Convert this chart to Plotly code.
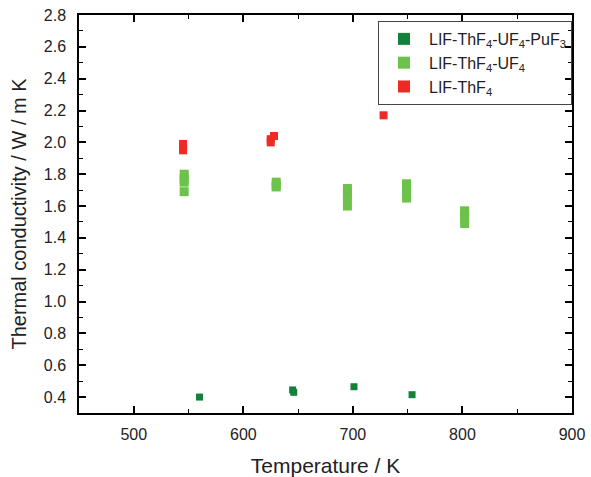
import plotly.graph_objects as go

# Thermal conductivity of fluoride salt mixtures vs temperature
t_pu = [560, 645, 646, 701, 754]
k_pu = [0.40, 0.445, 0.43, 0.465, 0.415]

t_u = [546, 546, 546, 546, 630, 630, 630, 695, 695, 695, 695, 749, 749, 749, 749, 802, 802, 802, 802]
k_u = [1.80, 1.77, 1.75, 1.69, 1.75, 1.73, 1.72, 1.71, 1.68, 1.65, 1.60, 1.74, 1.71, 1.68, 1.65, 1.57, 1.55, 1.52, 1.49]

t_th = [545, 545, 545, 625, 625, 628, 728]
k_th = [1.99, 1.97, 1.95, 2.02, 2.00, 2.04, 2.17]

names = ["LIF-ThF<sub>4</sub>-UF<sub>4</sub>-PuF<sub>3</sub>",
         "LIF-ThF<sub>4</sub>-UF<sub>4</sub>",
         "LIF-ThF<sub>4</sub>"]

FONT = "Liberation Sans, Arial, sans-serif"

fig = go.Figure()
fig.add_trace(go.Scatter(x=t_pu, y=k_pu, mode="markers", name=names[0],
                         marker=dict(symbol="square", size=7, color="#13803c")))
fig.add_trace(go.Scatter(x=t_u, y=k_u, mode="markers", name=names[1],
                         marker=dict(symbol="square", size=9, color="#6cc24a")))
fig.add_trace(go.Scatter(x=t_th, y=k_th, mode="markers", name=names[2],
                         marker=dict(symbol="square", size=8, color="#ee2a24")))

axis_common = dict(
    showline=True, linecolor="black", linewidth=1.5, mirror="ticks",
    ticks="inside", ticklen=7, tickwidth=1.5, tickcolor="black",
    showgrid=False, zeroline=False, automargin=False,
    tickfont=dict(family=FONT, size=16, color="#222"),
)

fig.update_xaxes(range=[450, 900], tickvals=[500, 600, 700, 800, 900],
                 minor=dict(ticks="inside", ticklen=4, tickwidth=1.2, tickcolor="black", dtick=50, tick0=450),
                 ticklabelstandoff=6,
                 title=dict(text="Temperature / K", font=dict(family=FONT, size=21, color="#222"), standoff=16),
                 **axis_common)
fig.update_yaxes(range=[0.3, 2.8], tickvals=[0.4, 0.6, 0.8, 1.0, 1.2, 1.4, 1.6, 1.8, 2.0, 2.2, 2.4, 2.6, 2.8],
                 tickformat=".1f",
                 minor=dict(ticks="inside", ticklen=4, tickwidth=1.2, tickcolor="black", dtick=0.1, tick0=0.3),
                 ticklabelstandoff=8,
                 title=dict(text="Thermal conductivity / W / m K", font=dict(family=FONT, size=20, color="#222"), standoff=12),
                 **axis_common)

fig.update_layout(
    width=591, height=477,
    margin=dict(l=79, r=19, t=15, b=64),
    paper_bgcolor="white", plot_bgcolor="white",
    font=dict(family=FONT, size=16, color="#222"),
    legend=dict(x=1.0, y=0.985, xanchor="right", yanchor="top",
                bgcolor="rgba(255,255,255,0)", bordercolor="#444", borderwidth=1,
                font=dict(family=FONT, size=16, color="#222"),
                itemsizing="constant", tracegroupgap=0, itemwidth=40),
    showlegend=True,
)

fig.write_html("out.html")
